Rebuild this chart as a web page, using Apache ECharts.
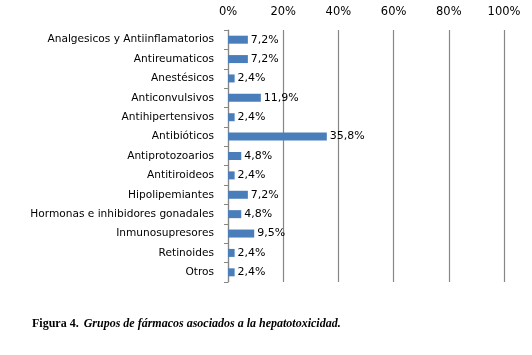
<!DOCTYPE html>
<html>
<head>
<meta charset="utf-8">
<script src="https://cdn.jsdelivr.net/npm/echarts@6/dist/echarts.min.js"></script>
<style>
    html, body { margin: 0; padding: 0; background: #fff; }
    #chart { width: 532px; height: 355px; }
</style>
</head>
<body>
<div id="chart"></div>
<script>
    // grupos de farmacos, de arriba a abajo
    const categories = [
        'Analgesicos y Antiinflamatorios',
        'Antireumaticos',
        'Anestésicos',
        'Anticonvulsivos',
        'Antihipertensivos',
        'Antibióticos',
        'Antiprotozoarios',
        'Antitiroideos',
        'Hipolipemiantes',
        'Hormonas e inhibidores gonadales',
        'Inmunosupresores',
        'Retinoides',
        'Otros'
    ]
    const porcentajes = [7.2, 7.2, 2.4, 11.9, 2.4, 35.8, 4.8, 2.4, 7.2, 4.8, 9.5, 2.4, 2.4]
    const xTicks = [0, 20, 40, 60, 80, 100]

    const font = 'DejaVu Sans'
    const chart = echarts.init(document.getElementById('chart'))

    const option = {
        backgroundColor: '#fff',
        animation: false,
        title: {
            left: 27,
            top: 310,
            text: '{b|Figura 4.} {i|Grupos de fármacos asociados a la hepatotoxicidad.}',
            textStyle: {
                rich: {
                    b: { fontFamily: 'Liberation Serif', fontWeight: 'bold', fontSize: 12, color: '#000' },
                    i: { fontFamily: 'Liberation Serif', fontStyle: 'italic', fontSize: 12, color: '#000' }
                }
            }
        },
        grid: {
            left: 228,
            right: 28,
            top: 30,
            bottom: 73,
            containLabel: false
        },
        xAxis: {
            type: 'value',
            position: 'top',
            min: xTicks[0],
            max: xTicks[xTicks.length - 1],
            interval: 20,
            axisLine: { show: false },
            axisTick: { show: false },
            axisLabel: {
                formatter: '{value}%',
                fontFamily: font,
                fontSize: 11.5,
                color: '#000',
                margin: 12
            },
            splitLine: {
                show: true,
                lineStyle: { color: '#868686', width: 1.2 }
            }
        },
        yAxis: {
            type: 'category',
            inverse: true,
            data: categories,
            axisLine: { lineStyle: { color: '#868686', width: 1.2 } },
            axisTick: { show: true, length: 4, lineStyle: { color: '#868686' } },
            axisLabel: {
                fontFamily: font,
                fontSize: 10.6,
                color: '#000',
                margin: 14
            }
        },
        series: [
            {
                type: 'bar',
                data: porcentajes,
                barWidth: 8,
                itemStyle: { color: '#4a7ebb' },
                label: {
                    show: true,
                    position: 'right',
                    distance: 3,
                    fontFamily: font,
                    fontSize: 11,
                    color: '#000',
                    formatter: p => p.value.toFixed(1).replace('.', ',') + '%'
                }
            }
        ]
    }
    chart.setOption(option)
</script>
</body>
</html>
